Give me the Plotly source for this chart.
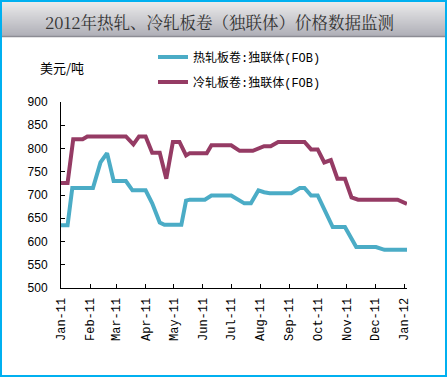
import plotly.graph_objects as go

# ---- data ----
hot_dates = ["2011-01-01", "2011-01-08", "2011-01-13", "2011-02-04", "2011-02-12", "2011-02-19",
             "2011-02-26", "2011-03-11", "2011-03-18", "2011-04-01", "2011-04-08", "2011-04-16",
             "2011-04-21", "2011-05-09", "2011-05-14", "2011-05-18", "2011-06-03", "2011-06-10",
             "2011-07-01", "2011-07-15", "2011-07-22", "2011-07-30", "2011-08-05", "2011-08-11",
             "2011-09-03", "2011-09-12", "2011-09-17", "2011-09-24", "2011-10-01", "2011-10-17",
             "2011-10-30", "2011-11-11", "2011-12-02", "2011-12-11", "2012-01-04"]
hot_values = [635, 635, 715, 715, 770, 790,
              730, 730, 710, 710, 682, 641,
              636, 636, 688, 690, 690, 699,
              699, 682, 682, 710, 706, 704,
              704, 715, 715, 699, 699, 631,
              631, 588, 588, 582, 582]

cold_dates = ["2011-01-01", "2011-01-08", "2011-01-14", "2011-01-24", "2011-01-29", "2011-03-11",
              "2011-03-19", "2011-03-25", "2011-04-01", "2011-04-08", "2011-04-16", "2011-04-23",
              "2011-04-30", "2011-05-07", "2011-05-14", "2011-05-18", "2011-06-05", "2011-06-10",
              "2011-07-01", "2011-07-10", "2011-07-24", "2011-08-05", "2011-08-12", "2011-08-20",
              "2011-09-17", "2011-09-24", "2011-10-01", "2011-10-08", "2011-10-15", "2011-10-22",
              "2011-10-30", "2011-11-06", "2011-11-13", "2011-12-25", "2012-01-04"]
cold_values = [726, 726, 820, 820, 826, 826,
               809, 826, 826, 791, 791, 735,
               814, 814, 785, 790, 790, 807,
               807, 795, 795, 805, 805, 814,
               814, 798, 798, 770, 775, 735,
               735, 695, 690, 690, 681]

series_names = ["热轧板卷:独联体(FOB)", "冷轧板卷:独联体(FOB)"]
tick_dates = ["2011-01-01", "2011-02-01", "2011-03-01", "2011-04-01", "2011-05-01", "2011-06-01",
              "2011-07-01", "2011-08-01", "2011-09-01", "2011-10-01", "2011-11-01", "2011-12-01",
              "2012-01-01"]
tick_labels = ["Jan-11", "Feb-11", "Mar-11", "Apr-11", "May-11", "Jun-11", "Jul-11", "Aug-11",
               "Sep-11", "Oct-11", "Nov-11", "Dec-11", "Jan-12"]
y_ticks = [500, 550, 600, 650, 700, 750, 800, 850, 900]
title_text = "2012年热轧、冷轧板卷（独联体）价格数据监测"
unit_text = "美元/吨"

# ---- layout geometry ----
W, H = 447, 377
ML, MR, MT, MB = 61, 40, 102, 89
PW, PH = W - ML - MR, H - MT - MB


def px(x):
    return (x - ML) / PW


def py(y):
    return (H - MB - y) / PH


fig = go.Figure()
fig.add_trace(go.Scatter(x=hot_dates, y=hot_values, mode="lines", name=series_names[0],
                         line=dict(color="#4BACC6", width=4), legend="legend"))
fig.add_trace(go.Scatter(x=cold_dates, y=cold_values, mode="lines", name=series_names[1],
                         line=dict(color="#953B64", width=4), legend="legend2"))

shapes = []
# title bar gradient
top_c = (238, 238, 238)
bot_c = (176, 176, 184)
n = 36
for i in range(n):
    t = i / (n - 1)
    c = tuple(int(top_c[k] + (bot_c[k] - top_c[k]) * t) for k in range(3))
    shapes.append(dict(type="rect", xref="paper", yref="paper", x0=px(0), x1=px(W),
                       y0=py(i + 1), y1=py(i), fillcolor="rgb(%d,%d,%d)" % c,
                       line=dict(width=0), layer="below"))
shapes.append(dict(type="line", xref="paper", yref="paper", x0=px(0), x1=px(W),
                   y0=py(36.5), y1=py(36.5), line=dict(color="#8c8c94", width=1.5)))
# outer border
shapes.append(dict(type="rect", xref="paper", yref="paper", x0=px(1), x1=px(446),
                   y0=py(376), y1=py(1), line=dict(color="#00B0F0", width=2)))

legend_font = dict(family="Liberation Mono, Noto Sans CJK SC", size=12, color="#000")

fig.update_layout(
    width=W, height=H,
    margin=dict(l=ML, r=MR, t=MT, b=MB, autoexpand=False),
    paper_bgcolor="white", plot_bgcolor="white",
    shapes=shapes,
    annotations=[
        dict(text=title_text, xref="paper", yref="paper", x=px(219), y=py(22),
             xanchor="center", yanchor="middle", showarrow=False,
             font=dict(family="Noto Serif CJK SC, Noto Sans CJK SC", size=16.5, color="#333333")),
        dict(text=unit_text, xref="paper", yref="paper", x=px(38), y=py(68),
             xanchor="left", yanchor="middle", showarrow=False,
             font=dict(family="Noto Sans CJK SC", size=13, color="#000000")),
    ],
    legend=dict(x=px(153), y=py(57), xanchor="left", yanchor="middle",
                bgcolor="rgba(0,0,0,0)", font=legend_font),
    legend2=dict(x=px(153), y=py(82), xanchor="left", yanchor="middle",
                 bgcolor="rgba(0,0,0,0)", font=legend_font),
    showlegend=True,
    xaxis=dict(type="date", range=["2011-01-01", "2012-01-04"],
               tickvals=tick_dates, ticktext=tick_labels, tickangle=-90,
               ticks="inside", ticklen=4, tickcolor="black", showgrid=False, zeroline=False,
               showline=True, linecolor="black", linewidth=1, ticklabelstandoff=4,
               tickfont=dict(family="Liberation Mono", size=12, color="#000")),
    yaxis=dict(range=[500, 900], tickvals=y_ticks, ticks="inside", ticklen=4,
               tickcolor="black", showgrid=False, zeroline=False,
               showline=True, linecolor="black", linewidth=1, ticklabelstandoff=10,
               tickfont=dict(family="Liberation Sans, Arial", size=12, color="#000")),
)

fig.write_html("out.html", config={"displayModeBar": False},
               post_script="document.body.style.margin='0';")
